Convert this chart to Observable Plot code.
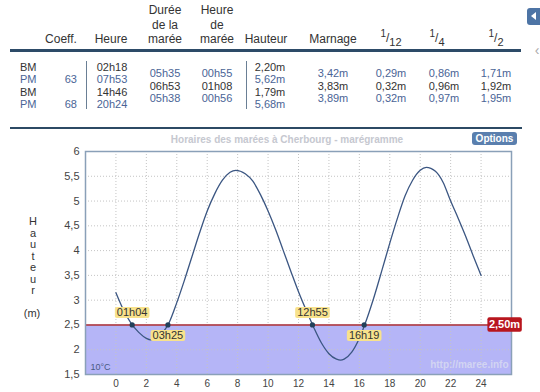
<!DOCTYPE html>
<html>
<head>
<meta charset="utf-8">
<script src="https://cdn.jsdelivr.net/npm/d3@7"></script>
<script src="https://cdn.jsdelivr.net/npm/@observablehq/plot@0.6"></script>
<style>
  html, body { margin: 0; padding: 0; background: #fff; }
  #page { position: relative; width: 540px; height: 392px; overflow: hidden;
          font-family: "Liberation Sans", Arial, sans-serif; color: #333; }
  .abs { position: absolute; white-space: nowrap; transform: translate(-50%, -50%); line-height: 0.92; }
  .cell { font-size: 11px; }
  .blue { color: #4a6496; }
  .dark { color: #333; }
  #chart { position: absolute; left: 0; top: 130px; }
</style>
</head>
<body>
<div id="page"></div>
<script>
// ---------- DATA ----------
const headers = ["Coeff.", "Heure", "Durée\nde la\nmarée", "Heure\nde\nmarée", "Hauteur", "Marnage"];
const fractionHeaders = [["1", "12"], ["1", "4"], ["1", "2"]];
const tideType = ["BM", "PM", "BM", "PM"];
const coeff = ["", "63", "", "68"];
const tideTime = ["02h18", "07h53", "14h46", "20h24"];
const tideHeight = ["2,20m", "5,62m", "1,79m", "5,68m"];
const duration = ["05h35", "06h53", "05h38"];
const tideHourLen = ["00h55", "01h08", "00h56"];
const tidalRange = ["3,42m", "3,83m", "3,89m"];
const twelfth = ["0,29m", "0,32m", "0,32m"];
const quarter = ["0,86m", "0,96m", "0,97m"];
const half = ["1,71m", "1,92m", "1,95m"];

const chartTitle = "Horaires des marées à Cherbourg - marégramme";
const optionsLabel = "Options";
const yAxisTitle = "Hauteur";
const yAxisUnit = "(m)";
const waterTemp = "10°C";
const watermark = "http://maree.info";

const hours = [0, 0.5, 1, 1.5, 2, 2.3, 2.5, 3, 3.5, 4, 4.5, 5, 5.5, 6, 6.5, 7, 7.5, 7.88,
  8.5, 9, 9.5, 10, 10.5, 11, 11.5, 12, 12.5, 13, 13.5, 14, 14.5, 14.77,
  15, 15.5, 16, 16.5, 17, 17.5, 18, 18.5, 19, 19.5, 20, 20.4,
  21, 21.5, 22, 22.5, 23, 23.5, 24];
const waterHeight = [3.15, 2.8, 2.53, 2.35, 2.23, 2.20, 2.21, 2.32, 2.55, 2.95, 3.4, 3.88, 4.36, 4.8, 5.15, 5.42, 5.58, 5.62,
  5.55, 5.4, 5.13, 4.8, 4.42, 4.0, 3.58, 3.17, 2.8, 2.45, 2.14, 1.92, 1.81, 1.79,
  1.81, 1.95, 2.23, 2.63, 3.1, 3.62, 4.15, 4.65, 5.1, 5.42, 5.62, 5.68,
  5.6, 5.38, 5.0, 4.65, 4.28, 3.88, 3.5];

const threshold = 2.5;
const crossLabels = ["01h04", "03h25", "12h55", "16h19"];
const crossHours = [1.067, 3.417, 12.917, 16.317];

const xDomain = [-2, 26];
const yDomain = [1.5, 6];
const xTicks = [0, 2, 4, 6, 8, 10, 12, 14, 16, 18, 20, 22, 24];
const yTicks = [1.5, 2, 2.5, 3, 3.5, 4, 4.5, 5, 5.5, 6];
const yGrid = [2, 3, 3.5, 4, 4.5, 5, 5.5];

// ---------- LAYOUT (positions/styles only) ----------
const page = document.getElementById("page");
function put(html, x, y, cls, extra) {
  const d = document.createElement("div");
  d.className = "abs " + (cls || "");
  d.innerHTML = html;
  d.style.left = x + "px";
  d.style.top = y + "px";
  if (extra) Object.assign(d.style, extra);
  page.appendChild(d);
  return d;
}
function box(x, y, w, h, color, extra) {
  const d = document.createElement("div");
  Object.assign(d.style, {position: "absolute", left: x + "px", top: y + "px", width: w + "px", height: h + "px", background: color}, extra || {});
  page.appendChild(d);
  return d;
}

// header texts
const headerX = [61, 111, 165, 217, 266, 333];
headers.forEach((h, i) => {
  const lines = h.split("\n");
  lines.forEach((ln, j) => {
    put(ln, headerX[i], 40 - (lines.length - 1 - j) * 14.5, "dark", {fontSize: "12px"});
  });
});
const fracX = [391, 437, 496];
fractionHeaders.forEach((f, i) => {
  put(`<span style="font-size:10px;position:relative;top:-5px">${f[0]}</span><span style="font-size:12px">/</span><span style="font-size:11px;position:relative;top:4px">${f[1]}</span>`, fracX[i], 37, "dark");
});

// header rules
box(10, 49, 511, 2.5, "#2d4b68");
box(10, 126.5, 512, 2.5, "#2c4a64");
box(85.5, 61, 1.3, 48, "#6a7f95");
box(246, 61, 1.3, 48, "#6a7f95");

// full rows and half rows
const rowY = [66.9, 79.3, 91.7, 104.1];
const halfY = [73.1, 85.5, 97.9];
tideType.forEach((t, i) => {
  const c = t === "PM" ? "blue" : "dark";
  put(t, 20, rowY[i], "cell " + c, {transform: "translate(0,-50%)"});
  if (coeff[i]) put(coeff[i], 77, rowY[i], "cell blue", {transform: "translate(-100%,-50%)"});
  put(tideTime[i], 112, rowY[i], "cell " + c);
  put(tideHeight[i], 270, rowY[i], "cell " + c);
});
[[duration, 165], [tideHourLen, 217], [tidalRange, 333], [twelfth, 391], [quarter, 444], [half, 496]].forEach(([arr, x]) => {
  arr.forEach((v, i) => put(v, x, halfY[i], "cell " + (i === 1 ? "dark" : "blue")));
});

// top-right widgets
const btn = box(526.5, 8, 22, 17, "#4d74a5", {borderRadius: "3px"});
btn.innerHTML = '<div style="position:absolute;left:4px;top:4px;width:0;height:0;border-top:4.5px solid transparent;border-bottom:4.5px solid transparent;border-right:5px solid #fff"></div>';
put("&lsaquo;", 537, 50, "", {fontSize: "14px", color: "#aaa"});

// ---------- CHART ----------
const tide = hours.map((t, i) => ({t, h: waterHeight[i]}));
const crossings = crossLabels.map((label, i) => ({label, t: crossHours[i], h: threshold, above: i % 2 === 0}));
const fmt = d => String(d).replace(".", ",");
const thresholdText = threshold.toFixed(2).replace(".", ",") + "m";

const chart = Plot.plot({
  width: 540,
  height: 262,
  marginTop: 21,
  marginBottom: 18,
  marginLeft: 85,
  marginRight: 29,
  x: {domain: xDomain},
  y: {domain: yDomain},
  style: {fontFamily: "'Liberation Sans', Arial, sans-serif", color: "#333", background: "transparent", overflow: "visible"},
  marks: [
    Plot.rect([threshold], {x1: xDomain[0], x2: xDomain[1], y1: yDomain[0], y2: d => d, fill: "#b5b5f7"}),
    Plot.gridX(xTicks, {stroke: "#c4c4c4", strokeOpacity: 1, strokeDasharray: "1,2"}),
    Plot.gridY(yGrid, {stroke: "#c4c4c4", strokeOpacity: 1, strokeDasharray: "1,2"}),
    Plot.ruleY([threshold], {stroke: "#b03232", strokeWidth: 1.6}),
    Plot.line(tide, {x: "t", y: "h", curve: "monotone-x", stroke: "#3b5682", strokeWidth: 1.3}),
    Plot.dot(crossings, {x: "t", y: "h", r: 2.6, fill: "#22405a", stroke: "none"}),
    Plot.text(crossings.filter(d => d.above), {x: "t", y: "h", text: "label", dy: -12, fontSize: 11, fill: "#333"}),
    Plot.text(crossings.filter(d => !d.above), {x: "t", y: "h", text: "label", dy: 11, fontSize: 11, fill: "#333"}),
    Plot.frame({stroke: "#8aa0b8", strokeWidth: 1.5}),
    Plot.axisX(xTicks, {tickSize: 0, tickPadding: 5, fontSize: 10, label: null, fill: "#444"}),
    Plot.axisY(yTicks, {tickSize: 0, tickPadding: 6, fontSize: 11, label: null, tickFormat: fmt, fill: "#444"}),
    Plot.text([waterTemp], {frameAnchor: "bottom-left", dx: 5, dy: -5, textAnchor: "start", fontSize: 9, fill: "#4a5a85"}),
    Plot.text([watermark], {frameAnchor: "bottom-right", dx: -3, dy: -7, textAnchor: "end", fontSize: 10, fontWeight: "bold", fill: "#d2d4f2"}),
    Plot.text([threshold], {y: d => d, frameAnchor: "right", dx: -7, textAnchor: "middle", text: () => thresholdText, fontSize: 11, fontWeight: "bold", fill: "#fff"})
  ]
});
chart.id = "chart";
page.appendChild(chart);

// label backgrounds drawn from the rendered text boxes
function addBox(t, fill, padX, padY, rx) {
  const b = t.getBBox();
  const r = document.createElementNS("http://www.w3.org/2000/svg", "rect");
  r.setAttribute("x", b.x - padX);
  r.setAttribute("y", b.y - padY);
  r.setAttribute("width", b.width + 2 * padX);
  r.setAttribute("height", b.height + 2 * padY);
  r.setAttribute("rx", rx);
  r.setAttribute("fill", fill);
  r.setAttribute("stroke", "none");
  const tr = t.getAttribute("transform");
  if (tr) r.setAttribute("transform", tr);
  t.parentNode.insertBefore(r, t);
}
chart.querySelectorAll("text").forEach(t => {
  const s = t.textContent;
  if (crossLabels.includes(s)) addBox(t, "#f8e28c", 2, -0.5, 2);
  else if (s === thresholdText) addBox(t, "#b8161e", 1.5, 1.2, 2);
});

// chart overlays
put(chartTitle, 287, 140, "", {fontSize: "10px", fontWeight: "bold", color: "#c6c8d0"});
const ob = box(472, 131.5, 45, 13.5, "#5a7fae", {borderRadius: "3px", color: "#fff", fontSize: "10px", fontWeight: "bold", textAlign: "center", lineHeight: "13.5px"});
ob.textContent = optionsLabel;
yAxisTitle.split("").forEach((ch, i) => put(ch, 33, 221 + i * 11.5, "", {fontSize: "11px", color: "#333"}));
put(yAxisUnit, 32, 313, "", {fontSize: "11px", color: "#333"});
</script>
</body>
</html>
